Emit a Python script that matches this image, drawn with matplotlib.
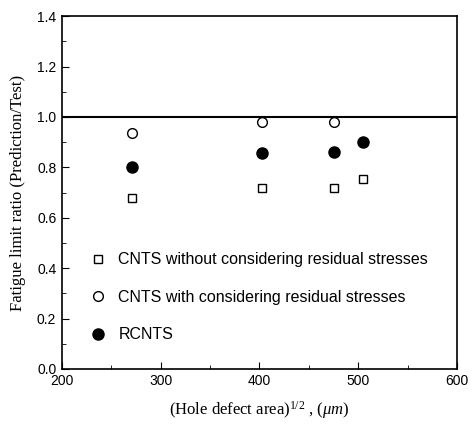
import matplotlib
matplotlib.use("Agg")
import matplotlib.pyplot as plt
from matplotlib.ticker import MultipleLocator, FormatStrFormatter

# data
x_open_sq = [271, 403, 476, 505]
y_open_sq = [0.68, 0.72, 0.72, 0.755]
x_open_ci = [271, 403, 476]
y_open_ci = [0.935, 0.98, 0.98]
x_fill_ci = [271, 403, 476, 505]
y_fill_ci = [0.80, 0.855, 0.86, 0.90]

labels = ["CNTS without considering residual stresses",
          "CNTS with considering residual stresses",
          "RCNTS"]

plt.rcParams["mathtext.fontset"] = "custom"
plt.rcParams["mathtext.rm"] = "Liberation Serif"
plt.rcParams["mathtext.it"] = "Liberation Serif:italic"

fig = plt.figure(figsize=(4.72, 4.26), dpi=100)
ax = fig.add_axes([0.131, 0.134, 0.837, 0.828])
for s in ax.spines.values():
    s.set_linewidth(1.2)

ax.axhline(1.0, color="black", lw=1.5)
ax.plot(x_open_sq, y_open_sq, "s", ms=6, mfc="white", mec="black", mew=1.0, label=labels[0])
ax.plot(x_open_ci, y_open_ci, "o", ms=7, mfc="white", mec="black", mew=1.0, label=labels[1])
ax.plot(x_fill_ci, y_fill_ci, "o", ms=8, mfc="black", mec="black", label=labels[2])

ax.set_xlim(200, 600)
ax.set_ylim(0, 1.4)
ax.xaxis.set_major_locator(MultipleLocator(100))
ax.xaxis.set_minor_locator(MultipleLocator(50))
ax.yaxis.set_major_locator(MultipleLocator(0.2))
ax.yaxis.set_minor_locator(MultipleLocator(0.1))
ax.yaxis.set_major_formatter(FormatStrFormatter("%.1f"))
ax.tick_params(which="both", direction="in", top=False, right=False)
ax.tick_params(which="major", length=5, pad=4)
ax.tick_params(which="minor", length=3)
for lbl in ax.get_xticklabels() + ax.get_yticklabels():
    lbl.set_fontfamily("Liberation Sans")
    lbl.set_fontsize(10)

ax.set_xlabel(r"(Hole defect area)$^{1/2}$ , ($\mathit{\mu m}$)", fontfamily="Liberation Serif",
              fontsize=12, labelpad=8)
ax.set_ylabel("Fatigue limit ratio (Prediction/Test)", fontfamily="Liberation Serif",
              fontsize=12, labelpad=8)

leg = ax.legend(loc="lower left", bbox_to_anchor=(0.03, 0.035), frameon=False,
                prop={"family": "Liberation Sans", "size": 11.5}, handletextpad=0.7,
                labelspacing=1.4, handlelength=1.2)

fig.savefig("out.png", dpi=100)
